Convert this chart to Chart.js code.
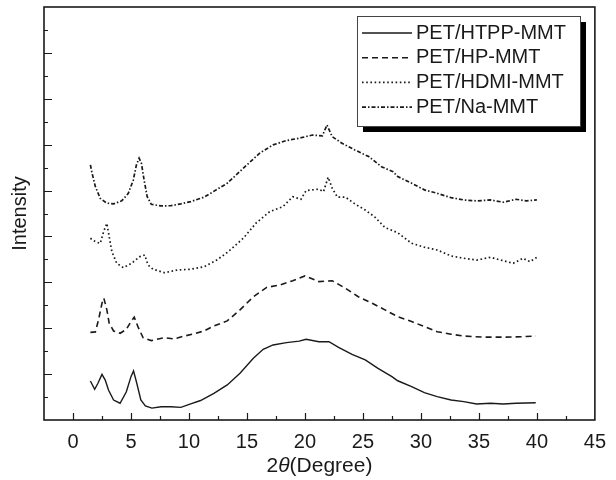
<!DOCTYPE html>
<html>
<head>
<meta charset="utf-8">
<script src="https://cdn.jsdelivr.net/npm/chart.js@4"></script>
<style>
  html, body { margin: 0; padding: 0; background: #fff; }
</style>
</head>
<body>
<canvas id="xrd" width="616" height="480"></canvas>
<script>
// 2θ (degree) and stacked intensity (a.u.)
const htppX = [1.5, 1.87, 2.15, 2.5, 2.78, 3.06, 3.5, 4.06, 4.6, 5.0, 5.22, 5.5, 5.85, 6.24, 6.8, 7.6, 8.45, 9.3, 10.15, 11.0, 12.15, 13.3, 14.4, 15.55, 16.4, 17.25, 18.4, 19.5, 20.1, 21.2, 22.07, 22.9, 24.06, 25.2, 26.3, 27.5, 28.0, 29.2, 30.3, 31.4, 32.6, 33.7, 34.8, 36.0, 37.1, 38.2, 39.9];
const htppY = [1.70, 1.34, 1.60, 1.99, 1.74, 1.31, 0.87, 0.73, 1.23, 1.89, 2.14, 1.60, 0.87, 0.61, 0.52, 0.58, 0.58, 0.55, 0.70, 0.85, 1.16, 1.53, 2.04, 2.69, 3.08, 3.27, 3.37, 3.44, 3.52, 3.41, 3.41, 3.17, 2.86, 2.62, 2.25, 1.89, 1.71, 1.45, 1.19, 1.02, 0.87, 0.80, 0.70, 0.73, 0.70, 0.73, 0.75];

const hpX = [1.5, 1.93, 2.2, 2.5, 2.66, 2.92, 3.12, 3.5, 4.06, 4.6, 5.0, 5.28, 5.6, 6.04, 6.75, 7.9, 8.7, 9.6, 10.4, 11.3, 12.15, 13.3, 14.4, 15.55, 16.7, 17.8, 18.95, 20.0, 21.2, 22.35, 23.5, 24.6, 25.8, 26.9, 28.0, 29.2, 30.3, 31.4, 32.6, 33.7, 35.4, 37.1, 38.8, 39.9];
const hpY = [3.82, 3.84, 4.36, 5.09, 5.31, 4.80, 4.22, 3.88, 3.78, 3.95, 4.29, 4.48, 4.07, 3.59, 3.46, 3.59, 3.53, 3.66, 3.75, 3.88, 4.10, 4.32, 4.80, 5.37, 5.78, 5.88, 6.07, 6.28, 6.03, 6.07, 5.74, 5.37, 5.09, 4.80, 4.50, 4.29, 4.07, 3.85, 3.74, 3.66, 3.61, 3.61, 3.63, 3.66];

const hdmiX = [1.5, 1.93, 2.35, 2.64, 2.92, 3.12, 3.35, 3.77, 4.34, 5.05, 5.76, 6.19, 6.47, 6.9, 7.9, 9.0, 10.15, 11.3, 12.4, 13.4, 14.7, 15.8, 16.96, 18.1, 18.95, 19.66, 20.1, 21.2, 21.6, 22.0, 22.35, 22.8, 23.5, 24.3, 25.2, 26.0, 26.9, 28.0, 29.2, 30.3, 31.4, 32.6, 33.7, 34.8, 36.0, 37.1, 37.96, 38.8, 39.4, 40.0];
const hdmiY = [7.92, 7.77, 7.70, 8.21, 8.57, 7.99, 7.34, 6.83, 6.64, 6.83, 7.12, 7.19, 6.76, 6.57, 6.42, 6.54, 6.57, 6.68, 6.97, 7.34, 7.93, 8.59, 9.08, 9.30, 9.73, 9.62, 10.00, 10.06, 9.95, 10.58, 10.10, 9.71, 9.71, 9.42, 9.15, 8.86, 8.39, 8.16, 7.70, 7.53, 7.41, 7.15, 7.05, 6.97, 7.09, 6.94, 6.83, 7.05, 6.90, 7.09];

const naX = [1.5, 1.65, 1.93, 2.35, 2.92, 3.5, 4.2, 4.77, 5.2, 5.47, 5.7, 5.9, 6.13, 6.4, 6.75, 7.6, 8.45, 9.3, 10.15, 11.3, 13.3, 15.0, 16.1, 17.25, 18.4, 19.5, 20.65, 21.5, 21.9, 22.35, 23.2, 24.3, 25.5, 26.6, 27.6, 28.0, 29.2, 30.3, 31.4, 32.6, 33.7, 34.8, 36.0, 37.1, 38.2, 39.1, 40.0];
const naY = [11.12, 10.75, 10.17, 9.66, 9.45, 9.42, 9.55, 9.88, 10.46, 11.12, 11.41, 11.19, 10.46, 9.73, 9.40, 9.33, 9.34, 9.42, 9.52, 9.71, 10.32, 11.12, 11.63, 11.99, 12.18, 12.28, 12.42, 12.38, 12.86, 12.35, 12.06, 11.77, 11.48, 11.04, 10.82, 10.61, 10.32, 10.03, 9.88, 9.69, 9.59, 9.55, 9.59, 9.49, 9.62, 9.55, 9.59];

const seriesNames = ["PET/HTPP-MMT", "PET/HP-MMT", "PET/HDMI-MMT", "PET/Na-MMT"];

// axis ranges and ticks
const xMin = -2.5, xMax = 45, xStep = 2.5, xLabelEvery = 5;
const yMin = 0, yMax = 18, yStep = 1;

const FONT = "'Liberation Sans', Arial, sans-serif";
const INK = "#1a1a1a";

function pts(xs, ys) {
  return xs.map((x, i) => ({ x, y: ys[i] }));
}

function line(label, xs, ys, dash, width) {
  return {
    label,
    data: pts(xs, ys),
    borderColor: INK,
    borderWidth: width,
    borderDash: dash,
    pointRadius: 0,
    tension: 0,
    fill: false,
  };
}

// frame, inward ticks, x title and the boxed legend with shadow
const framePlugin = {
  id: "frame",
  afterDraw(chart) {
    const { ctx, chartArea: a } = chart;
    const x = chart.scales.x, y = chart.scales.y;
    ctx.save();
    ctx.strokeStyle = INK;
    ctx.lineWidth = 1.6;
    ctx.strokeRect(a.left, a.top, a.right - a.left, a.bottom - a.top);

    ctx.lineWidth = 1.2;
    ctx.beginPath();
    x.ticks.forEach((t) => {
      if (t.value <= x.min || t.value >= x.max) return;
      const px = Math.round(x.getPixelForValue(t.value)) + 0.5;
      const len = t.value % xLabelEvery === 0 ? 7 : 4;
      ctx.moveTo(px, a.bottom);
      ctx.lineTo(px, a.bottom - len);
    });
    y.ticks.forEach((t) => {
      if (t.value <= y.min || t.value >= y.max) return;
      const py = Math.round(y.getPixelForValue(t.value)) + 0.5;
      const len = t.value % 2 === 0 ? 8 : 4;
      ctx.moveTo(a.left, py);
      ctx.lineTo(a.left + len, py);
    });
    ctx.stroke();

    // x title: 2θ(Degree) with italic theta
    ctx.fillStyle = INK;
    ctx.textBaseline = "middle";
    const parts = [["2", "21px " + FONT], ["\u03B8", "italic 21px " + FONT], ["(Degree)", "21px " + FONT]];
    let w = 0;
    parts.forEach((p) => { ctx.font = p[1]; w += ctx.measureText(p[0]).width; });
    let tx = (a.left + a.right) / 2 - w / 2;
    parts.forEach((p) => {
      ctx.font = p[1];
      ctx.fillText(p[0], tx, 466);
      tx += ctx.measureText(p[0]).width;
    });

    // legend
    const bx = 357, by = 16, bw = 223, bh = 110;
    ctx.fillStyle = "#000";
    ctx.fillRect(bx + 6, by + 6, bw, bh);
    ctx.fillStyle = "#fff";
    ctx.fillRect(bx, by, bw, bh);
    ctx.strokeStyle = "#444";
    ctx.lineWidth = 1;
    ctx.strokeRect(bx + 0.5, by + 0.5, bw, bh);

    ctx.font = "20px " + FONT;
    ctx.textAlign = "left";
    chart.data.datasets.forEach((ds, i) => {
      const ly = 33 + i * 24.7;
      ctx.strokeStyle = INK;
      ctx.lineWidth = ds.borderWidth;
      ctx.setLineDash(ds.borderDash || []);
      ctx.beginPath();
      ctx.moveTo(362, ly);
      ctx.lineTo(412, ly);
      ctx.stroke();
      ctx.setLineDash([]);
      ctx.fillStyle = INK;
      ctx.fillText(ds.label, 416, ly);
    });
    ctx.restore();
  },
};

new Chart(document.getElementById("xrd").getContext("2d"), {
  type: "line",
  data: {
    datasets: [
      line(seriesNames[0], htppX, htppY, [], 1.4),
      line(seriesNames[1], hpX, hpY, [6, 4], 1.6),
      line(seriesNames[2], hdmiX, hdmiY, [1.6, 2.6], 1.7),
      line(seriesNames[3], naX, naY, [4, 2, 1.5, 2], 1.7),
    ],
  },
  options: {
    responsive: false,
    animation: false,
    devicePixelRatio: 1,
    layout: { padding: { top: 7, right: 12, left: 0, bottom: 0 } },
    plugins: { legend: { display: false }, tooltip: { enabled: false } },
    scales: {
      x: {
        type: "linear",
        min: xMin,
        max: xMax,
        grid: { display: false, drawTicks: false },
        border: { display: false },
        ticks: {
          stepSize: xStep,
          autoSkip: false,
          maxRotation: 0,
          padding: 10,
          color: INK,
          font: { family: FONT, size: 20 },
          callback: (v) => (v % xLabelEvery === 0 && v >= 0 ? String(v) : ""),
        },
        afterFit: (s) => { s.height = 60; },
      },
      y: {
        type: "linear",
        min: yMin,
        max: yMax,
        grid: { display: false, drawTicks: false },
        border: { display: false },
        ticks: { stepSize: yStep, display: false },
        title: {
          display: true,
          text: "Intensity",
          color: INK,
          font: { family: FONT, size: 20 },
          padding: { top: 8, bottom: 0 },
        },
        afterFit: (s) => { s.width = 44; },
      },
    },
  },
  plugins: [framePlugin],
});
</script>
</body>
</html>
